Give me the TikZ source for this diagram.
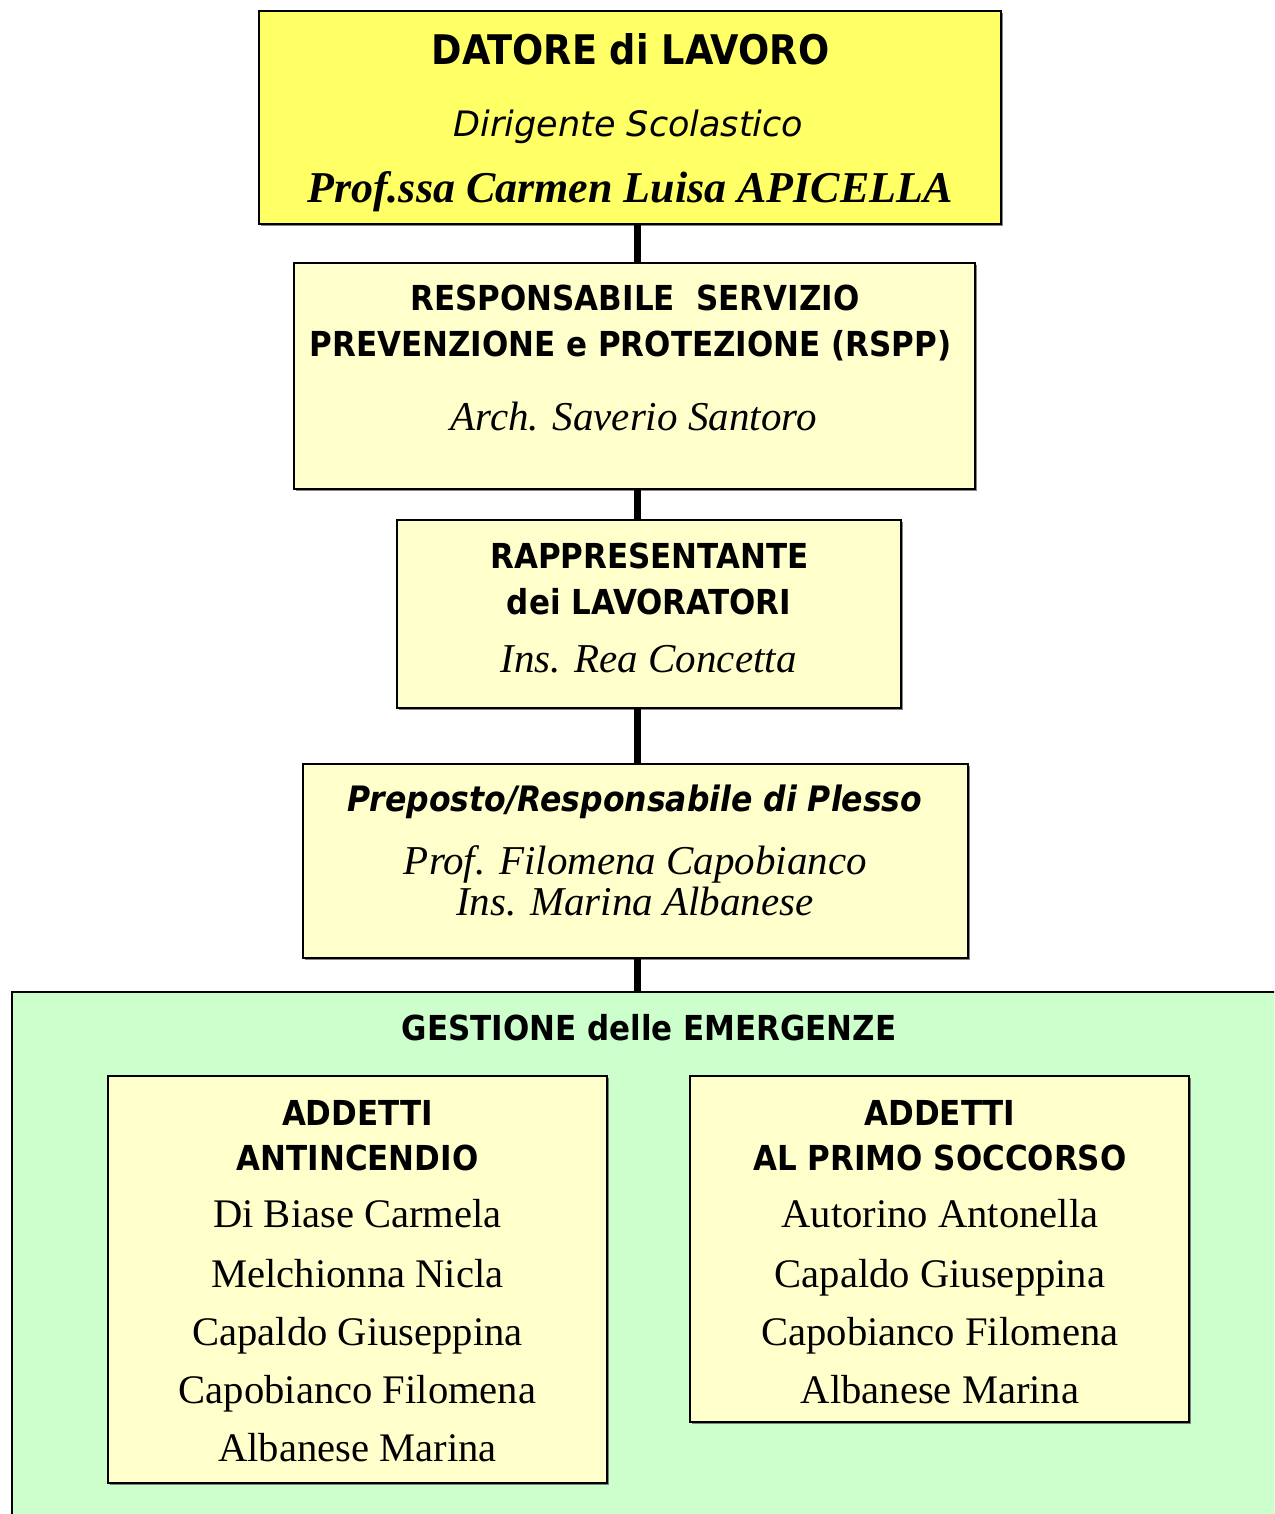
\documentclass[tikz,border=0pt]{standalone}
\usepackage{fontspec}
\setmainfont{Liberation Serif}
\setsansfont{DejaVu Sans}
\newfontfamily\stretto[FakeStretch=0.9]{DejaVu Sans}
\usetikzlibrary{shadows}
\definecolor{giallo}{HTML}{FFFF66}
\definecolor{crema}{HTML}{FFFFCC}
\definecolor{verde}{HTML}{CCFFCC}
\newcommand\titolo{\stretto\bfseries\fontsize{17.2}{20}\selectfont}
\newcommand\nome{\rmfamily\fontsize{20.3}{24}\selectfont}
\newcommand\nomeit{\rmfamily\itshape\fontsize{20.5}{24}\selectfont}
\tikzset{
  cell/.style={draw, line width=1.2pt, fill=crema, inner sep=0pt,
    drop shadow={shadow xshift=0.8pt, shadow yshift=-0.8pt, fill=black!60, opacity=.8}},
  link/.style={line width=3.5pt},
  txt/.style={anchor=base, inner sep=0pt}
}
\begin{document}
\begin{tikzpicture}[x=0.5pt, y=-0.5pt]
\useasboundingbox (0,0) rectangle (1274,1514);
\clip (0,0) rectangle (1274,1514);
\coordinate (asse) at (637,0);

\node (gest) at (656,1266)[cell, fill=verde, minimum width=644pt, minimum height=274pt]{};
\node (datore) at (630,117.5)[cell, fill=giallo, minimum width=371pt, minimum height=106.5pt]{};
\node (rspp) at (634.5,376)[cell, minimum width=340.5pt, minimum height=113pt]{};
\node (rls) at (649,614)[cell, minimum width=252pt, minimum height=94pt]{};
\node (prep) at (635.5,861)[cell, minimum width=332.5pt, minimum height=97pt]{};
\node (fuoco) at (357.5,1279.5)[cell, minimum width=249.5pt, minimum height=203.5pt]{};
\node (soccorso) at (939.5,1249)[cell, minimum width=249.5pt, minimum height=173pt]{};

\draw[link] (datore.south -| asse)--(rspp.north -| asse);
\draw[link] (rspp.south -| asse)--(rls.north -| asse);
\draw[link] (rls.south -| asse)--(prep.north -| asse);
\draw[link] (prep.south -| asse)--(gest.north -| asse);

\node (d1) at (630.5,65)[txt]{\stretto\bfseries\fontsize{20.4}{24}\selectfont DATORE di LAVORO};
\node (d2) at (628.5,137)[txt]{\sffamily\itshape\fontsize{17.5}{21}\selectfont Dirigente Scolastico};
\node (d3) at (630,203)[txt]{\rmfamily\bfseries\itshape\fontsize{22}{26}\selectfont Prof.ssa Carmen Luisa APICELLA};

\node (r1) at (635,310)[txt]{\titolo RESPONSABILE\ \ SERVIZIO};
\node (r2) at (630.5,356)[txt]{\titolo PREVENZIONE e PROTEZIONE (RSPP)};
\node (r3) at (633.5,430)[txt]{\nomeit Arch. Saverio Santoro};

\node (l1) at (649.5,568)[txt]{\titolo RAPPRESENTANTE};
\node (l2) at (649,614)[txt]{\titolo dei LAVORATORI};
\node (l3) at (648.5,672)[txt]{\nomeit Ins. Rea Concetta};

\node (p1) at (635,811)[txt]{\stretto\bfseries\itshape\fontsize{17.5}{20}\selectfont Preposto/Responsabile di Plesso};
\node (p2) at (635.5,874)[txt]{\nomeit Prof. Filomena Capobianco};
\node (p3) at (635,915)[txt]{\nomeit Ins. Marina Albanese};

\node (g1) at (649,1040)[txt]{\titolo GESTIONE delle EMERGENZE};

\node (f1) at (357.5,1125)[txt]{\titolo ADDETTI};
\node (f2) at (357.5,1170)[txt]{\titolo ANTINCENDIO};
\foreach \n/\y [count=\i] in {Di Biase Carmela/1227, Melchionna Nicla/1287, Capaldo Giuseppina/1345, Capobianco Filomena/1403, Albanese Marina/1461}
  \node (fn\i) at (357.5,\y)[txt]{\nome \n};

\node (s1) at (940,1125)[txt]{\titolo ADDETTI};
\node (s2) at (940,1170)[txt]{\titolo AL PRIMO SOCCORSO};
\foreach \n/\y [count=\i] in {Autorino Antonella/1227, Capaldo Giuseppina/1287, Capobianco Filomena/1345, Albanese Marina/1403}
  \node (sn\i) at (940,\y)[txt]{\nome \n};

\end{tikzpicture}
\end{document}
